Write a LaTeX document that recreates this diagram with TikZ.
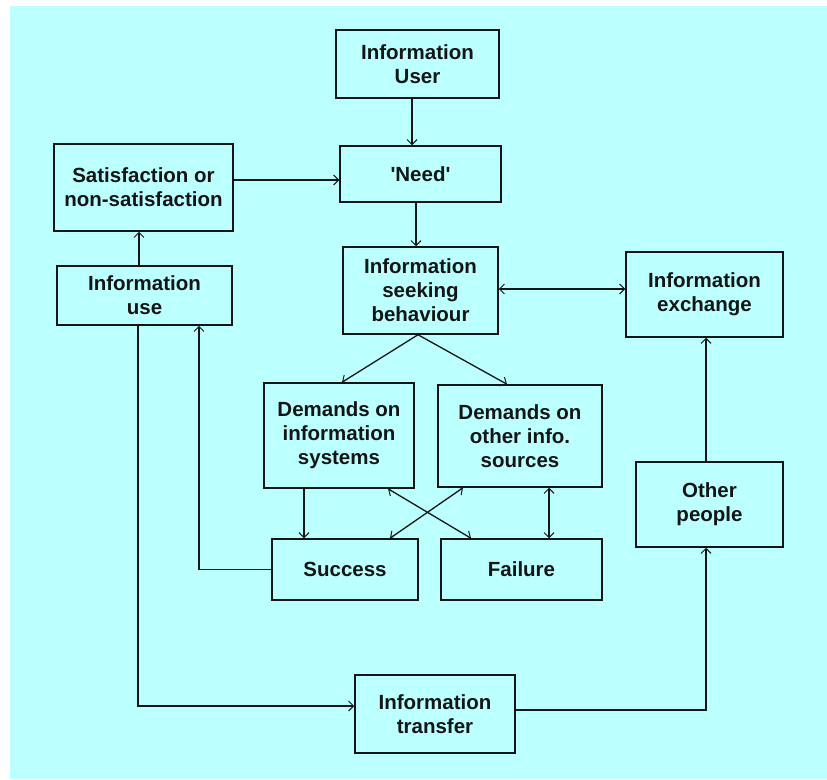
\documentclass[tikz,border=0pt]{standalone}
\usepackage{fontspec}
\setmainfont{Liberation Sans}
\usetikzlibrary{arrows.meta}
\definecolor{bgcyan}{HTML}{BCFFFF}
\definecolor{ink}{HTML}{151515}
\tikzset{
  box/.style={draw=ink, line width=1.5pt, fill=none, inner sep=0pt, align=center,
    text=ink, font=\fontsize{20.5}{24}\selectfont\bfseries},
  conn/.style={draw=ink, line width=1.3pt},
  arr/.style={conn, -{Straight Barb[length=5pt,width=10pt,line width=1pt]}},
  darr/.style={conn, {Straight Barb[length=5pt,width=10pt,line width=1pt]}-{Straight Barb[length=5pt,width=10pt,line width=1pt]}}
}
\begin{document}
\begin{tikzpicture}[x=1pt,y=-1pt]
\useasboundingbox (0,0) rectangle (827,779);
\fill[white] (0,0) rectangle (827,779);
\fill[bgcyan] (10,6) rectangle (827,779);

% boxes
\node[box, minimum width=163pt, minimum height=68pt] (user) at (417.5,64) {Information\\User};
\node[box, minimum width=161pt, minimum height=56pt] (need) at (420.5,174) {\textquotesingle Need\textquotesingle};
\node[box, minimum width=179pt, minimum height=87pt] (satis) at (143.5,187.5) {Satisfaction or\\non-satisfaction};
\node[box, minimum width=175pt, minimum height=59pt] (use) at (144.5,295.5) {Information\\use};
\node[box, minimum width=155pt, minimum height=87pt] (seek) at (420.5,290.5) {Information\\seeking\\behaviour};
\node[box, minimum width=157pt, minimum height=85pt] (exch) at (704.5,294.5) {Information\\exchange};
\node[box, minimum width=150pt, minimum height=105pt] (dis) at (339,435.5) {Demands on\\information\\systems};
\node[box, minimum width=164pt, minimum height=102pt] (dos) at (520,436) {Demands on\\other info.\\sources};
\node[box, minimum width=146pt, minimum height=61pt] (succ) at (345,569.5) {Success};
\node[box, minimum width=161pt, minimum height=61pt] (fail) at (521.5,569.5) {Failure};
\node[box, minimum width=147pt, minimum height=85pt] (other) at (709.5,504.5) {Other\\people};
\node[box, minimum width=160pt, minimum height=78pt] (transfer) at (435,714) {Information\\transfer};

% channel coordinates
\coordinate (x412) at (412,0);
\coordinate (x416) at (416,0);
\coordinate (x139) at (139,0);
\coordinate (x138) at (138,0);
\coordinate (x199) at (199,0);
\coordinate (x418) at (418,0);
\coordinate (x342) at (342,0);
\coordinate (x507) at (507,0);
\coordinate (x304) at (304,0);
\coordinate (x388) at (388,0);
\coordinate (x471) at (471,0);
\coordinate (x463) at (463,0);
\coordinate (x390) at (390,0);
\coordinate (x549) at (549,0);
\coordinate (x706) at (706,0);
\coordinate (y180) at (0,180);
\coordinate (y289) at (0,289);
\coordinate (y706) at (0,706);
\coordinate (y710) at (0,710);

% connectors
\draw[arr] (user.south -| x412) -- (need.north -| x412);
\draw[arr] (satis.east |- y180) -- (need.west |- y180);
\draw[arr] (need.south -| x416) -- (seek.north -| x416);
\draw[arr] (use.north -| x139) -- (satis.south -| x139);
\draw[darr] (seek.east |- y289) -- (exch.west |- y289);
\draw[arr] (seek.south -| x418) -- (dis.north -| x342);
\draw[arr] (seek.south -| x418) -- (dos.north -| x507);
\draw[arr] (dis.south -| x304) -- (succ.north -| x304);
\draw[darr] (dis.south -| x388) -- (fail.north -| x471);
\draw[darr] (dos.south -| x463) -- (succ.north -| x390);
\draw[darr] (dos.south -| x549) -- (fail.north -| x549);
\draw[arr] (succ.west) -| (use.south -| x199);
\draw[arr] (use.south -| x138) |- (transfer.west |- y706);
\draw[arr] (transfer.east |- y710) -| (other.south -| x706);
\draw[arr] (other.north -| x706) -- (exch.south -| x706);
\end{tikzpicture}
\end{document}
